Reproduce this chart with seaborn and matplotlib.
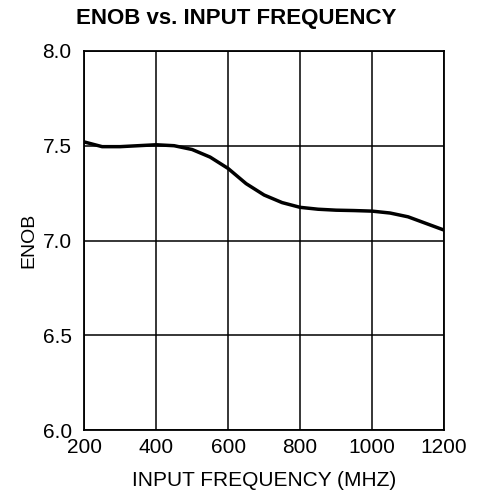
import pandas as pd
import seaborn as sns
import matplotlib.pyplot as plt

freq_mhz = [200, 250, 300, 350, 400, 450, 500, 550, 600, 650, 700,
            750, 800, 850, 900, 950, 1000, 1050, 1100, 1150, 1200]
enob = [7.52, 7.495, 7.495, 7.50, 7.505, 7.50, 7.48, 7.44, 7.38, 7.30, 7.24,
        7.20, 7.175, 7.165, 7.16, 7.158, 7.155, 7.145, 7.125, 7.09, 7.055]
x_ticks = [200, 400, 600, 800, 1000, 1200]
y_ticks = [6.0, 6.5, 7.0, 7.5, 8.0]

sns.set_style("white")
plt.rcParams["font.family"] = ["Liberation Sans", "DejaVu Sans"]
plt.rcParams["text.color"] = "black"
plt.rcParams["axes.labelcolor"] = "black"
plt.rcParams["xtick.color"] = "black"
plt.rcParams["ytick.color"] = "black"

df = pd.DataFrame({"freq": freq_mhz, "enob": enob})

fig = plt.figure(figsize=(4.78, 4.99), dpi=100)
ax = fig.add_axes([0.176, 0.138, 0.753, 0.76])
sns.lineplot(data=df, x="freq", y="enob", ax=ax, color="black", linewidth=2.5)

ax.set_xlim(200, 1200)
ax.set_ylim(6.0, 8.0)
ax.set_xticks(x_ticks)
ax.set_yticks(y_ticks)
ax.set_xticklabels([str(t) for t in x_ticks], fontsize=15)
ax.set_yticklabels([f"{t:.1f}" for t in y_ticks], fontsize=15)
ax.tick_params(axis="x", length=0, pad=6)
ax.tick_params(axis="y", length=0, pad=9)
ax.grid(True, color="black", linewidth=1.1)
for s in ax.spines.values():
    s.set_color("black")
    s.set_linewidth(1.3)

ax.set_xlabel("INPUT FREQUENCY (MHZ)", fontsize=15, labelpad=10)
ax.set_ylabel("ENOB", fontsize=14, labelpad=4)
fig.text(0.495, 0.962, "ENOB vs. INPUT FREQUENCY", ha="center", va="center",
         fontsize=16, fontweight="bold")

fig.savefig("out.png", dpi=100)
